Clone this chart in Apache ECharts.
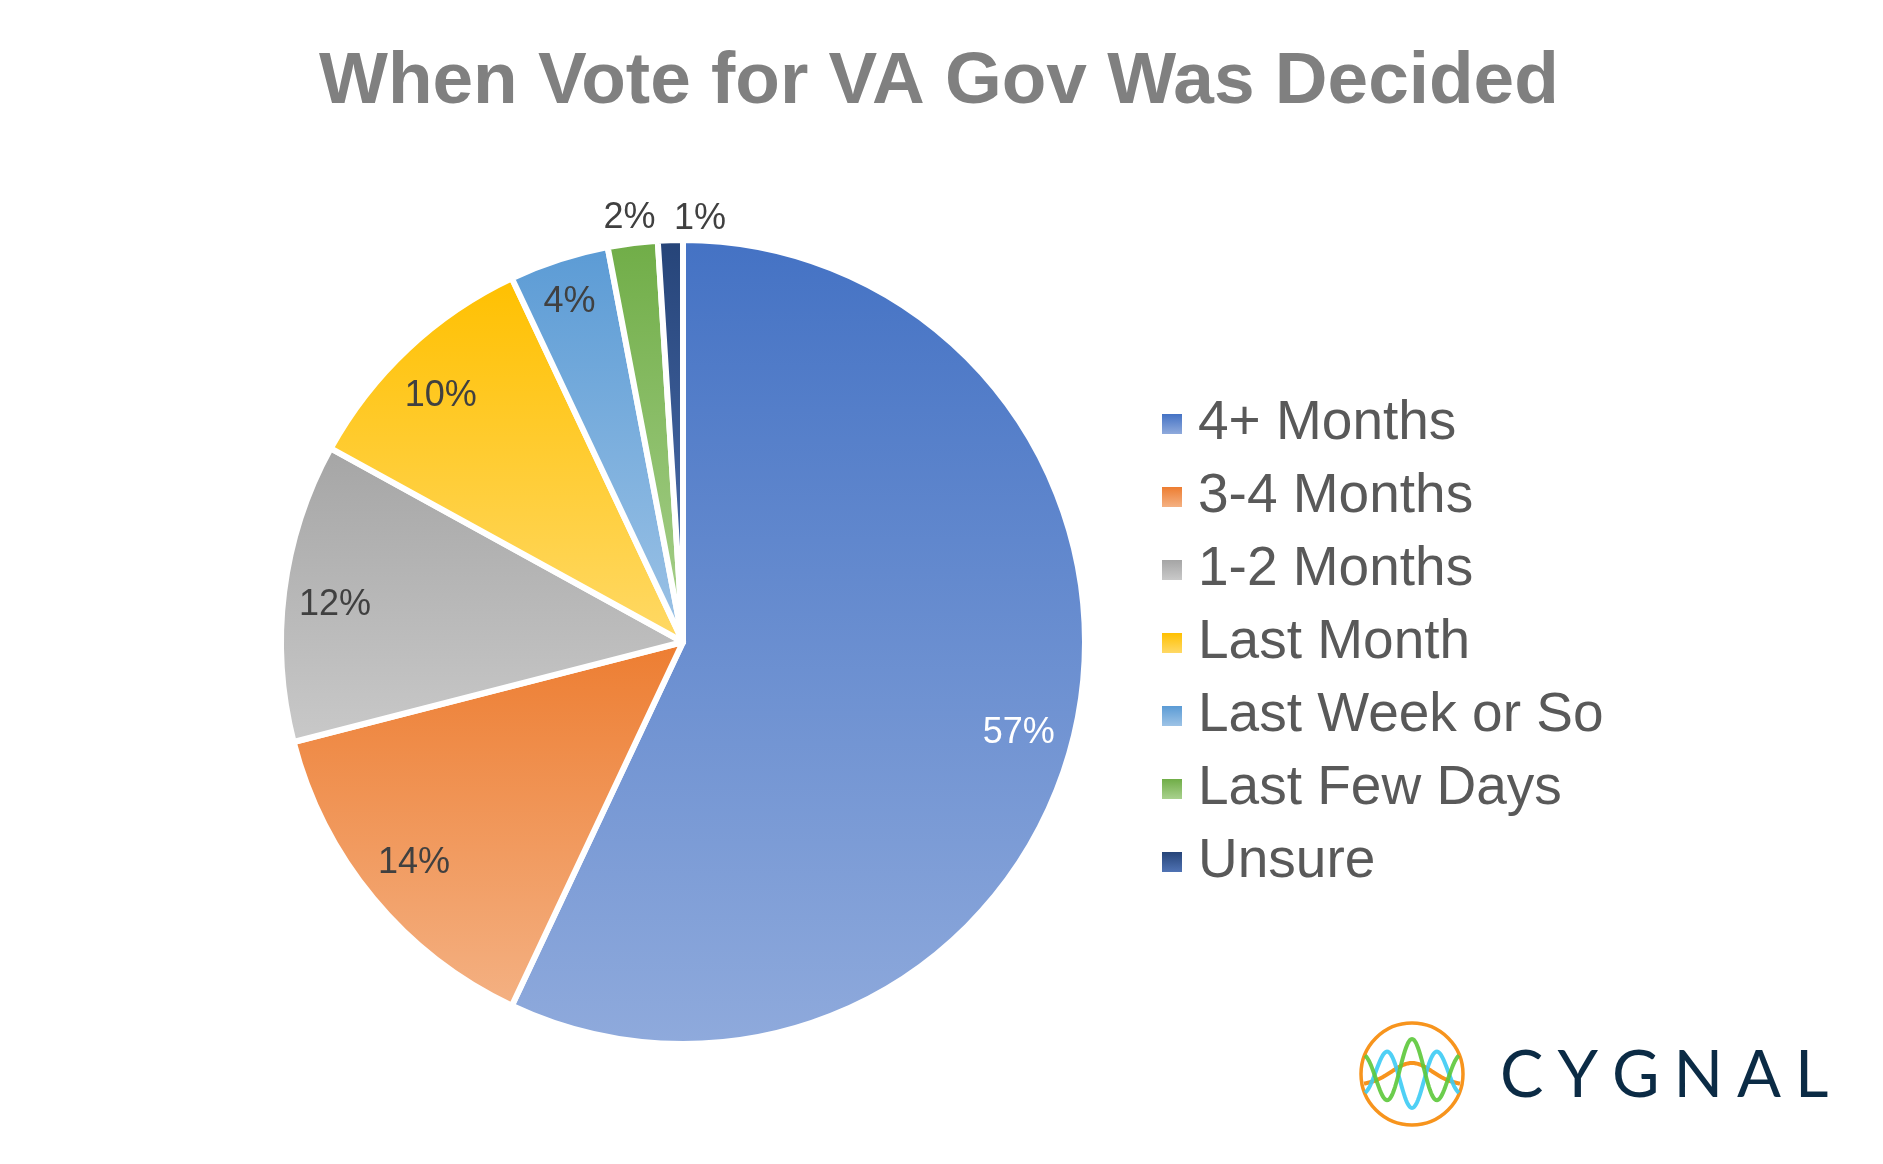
<!DOCTYPE html>
<html>
<head>
<meta charset="utf-8">
<script src="https://cdn.jsdelivr.net/npm/echarts@6/dist/echarts.min.js"></script>
<style>
html,body{margin:0;padding:0;background:#fff;}
#chart{width:1883px;height:1164px;}
</style>
</head>
<body>
<div id="chart"></div>
<script>
// ---- data ----
const chartTitle = 'When Vote for VA Gov Was Decided';
const categories = ['4+ Months', '3-4 Months', '1-2 Months', 'Last Month', 'Last Week or So', 'Last Few Days', 'Unsure'];
const values = [57, 14, 12, 10, 4, 2, 1];
const topColors = ['#4472C4', '#ED7D31', '#A5A5A5', '#FFC000', '#5B9BD5', '#70AD47', '#264478'];
const bottomColors = ['#8FAADC', '#F4B183', '#C9C9C9', '#FFD966', '#9DC3E6', '#A9D18E', '#5073B4'];
const brandName = 'CYGNAL';

// ---- layout / style ----
const FONT = '"Liberation Sans", Arial, Helvetica, sans-serif';
const CX = 683, CY = 642, R = 399;
// label placement per slice: [distance from centre, angular nudge in degrees]
const labelPlacement = [[345, 2.6], [345, 0.2], [347, -1.1], [342, -1.4], [355, -0.5], [424, 0], [420, 4.1]];

function grad(i) {
  return new echarts.graphic.LinearGradient(0, 0, 0, 1, [
    { offset: 0, color: topColors[i] },
    { offset: 1, color: bottomColors[i] }
  ]);
}

const mainData = categories.map((c, i) => ({
  name: c, value: values[i],
  itemStyle: { color: grad(i) }
}));

function labelData(showIdx) {
  return categories.map((c, i) => ({
    name: c, value: values[i],
    label: {
      show: i === showIdx,
      color: i === 0 ? '#FFFFFF' : '#404040'
    }
  }));
}

function labelSeries(i) {
  const d = labelPlacement[i][0], nudge = labelPlacement[i][1];
  return {
    type: 'pie', name: 'label' + i, silent: true,
    center: [CX, CY], radius: [d - 20, d + 20],
    startAngle: 90 - nudge, clockwise: true,
    avoidLabelOverlap: false, legendHoverLink: false,
    itemStyle: { color: 'rgba(0,0,0,0)', borderWidth: 0 },
    label: { position: 'inside', formatter: '{c}%', fontSize: 36, fontFamily: FONT, fontWeight: 'normal' },
    labelLine: { show: false },
    emphasis: { disabled: true },
    data: labelData(i),
    z: 5
  };
}

// logo wave helpers (decoration only)
const LX = 1412, LY = 1074, LR = 51;
function wave(c, amp, sign) {
  const pts = [];
  for (let x = -47; x <= 47; x += 1) {
    const env = Math.exp(-Math.pow(x / 63.7, 2));
    pts.push([LX + x, c + sign * amp * env * Math.cos(2 * Math.PI * x / 51.3)]);
  }
  return pts;
}
function bump() {
  const pts = [];
  for (let x = -48; x <= 48; x += 1) {
    pts.push([LX + x, 1085 - 22 * Math.exp(-Math.pow(x / 29, 2))]);
  }
  return pts;
}

const brandRich = brandName.split('').map(ch => '{a|' + ch + '}').join('');

const option = {
  backgroundColor: '#FFFFFF',
  animation: false,
  title: {
    text: chartTitle,
    left: 314, top: 41,
    textStyle: { fontSize: 73, fontWeight: 'bold', color: '#808080', fontFamily: FONT }
  },
  legend: {
    orient: 'vertical',
    left: 1157, top: 391,
    data: categories,
    icon: 'rect',
    itemWidth: 20, itemHeight: 20, itemGap: 17,
    itemStyle: { borderWidth: 0 },
    selectedMode: false,
    textStyle: { fontSize: 55, lineHeight: 56, color: '#595959', fontFamily: FONT, padding: [0, 0, 0, 11] }
  },
  series: [
    {
      type: 'pie', name: 'main',
      center: [CX, CY], radius: R + 3,
      startAngle: 90, clockwise: true,
      itemStyle: { borderColor: '#FFFFFF', borderWidth: 6 },
      label: { show: false }, labelLine: { show: false },
      emphasis: { disabled: true },
      data: mainData,
      z: 2
    }
  ].concat(categories.map((c, i) => labelSeries(i))),
  graphic: [
    { type: 'circle', shape: { cx: LX, cy: LY, r: LR }, style: { fill: 'none', stroke: '#F7941D', lineWidth: 3.5 }, z: 10 },
    { type: 'polyline', shape: { points: bump() }, style: { fill: 'none', stroke: '#F7941D', lineWidth: 4 }, z: 11 },
    { type: 'polyline', shape: { points: wave(1077.6, 30.4, 1) }, style: { fill: 'none', stroke: '#3CCBF4', lineWidth: 4, opacity: 0.9 }, z: 12 },
    { type: 'polyline', shape: { points: wave(1072, 33, -1) }, style: { fill: 'none', stroke: '#5CC83A', lineWidth: 4, opacity: 0.9 }, z: 13 },
    {
      type: 'text', x: 1493, y: 1076, z: 14,
      style: {
        text: brandRich,
        verticalAlign: 'middle', align: 'left',
        rich: { a: { fontSize: 65, fontFamily: 'Lato, "Open Sans", sans-serif', fill: '#0B2B45', color: '#0B2B45', padding: [0, 7, 0, 7] } }
      }
    }
  ]
};

const chart = echarts.init(document.getElementById('chart'), null, { renderer: 'canvas' });
chart.setOption(option);
</script>
</body>
</html>
